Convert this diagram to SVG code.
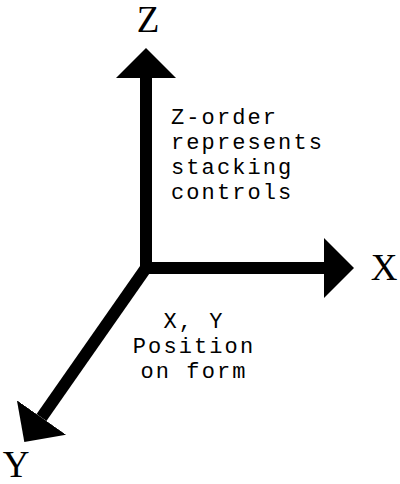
<svg xmlns="http://www.w3.org/2000/svg" width="400" height="484" viewBox="0 0 400 484">
<style>
.axis{stroke:#000;stroke-width:12;fill:none;marker-end:url(#head)}
.lbl{font-family:"Liberation Mono","Courier New",monospace;fill:#000}
.big{font-family:"Liberation Serif","Times New Roman",serif;font-size:37px;text-anchor:middle}
.note{font-size:22px;letter-spacing:2.1px}
.mid{text-anchor:middle}
</style>
<defs>
<marker id="head" markerUnits="userSpaceOnUse" markerWidth="30" markerHeight="60" viewBox="0 0 30 60" refX="0" refY="30" orient="auto">
<path d="M0,0 L30,30 L0,60 Z" fill="#000"/>
</marker>
</defs>
<rect width="400" height="484" fill="#fff"/>
<g id="connectors">
<line class="axis" x1="146" y1="274" x2="146" y2="78"/>
<line class="axis" x1="140" y1="268" x2="324" y2="268"/>
<line class="axis" x1="146" y1="268" x2="41.5" y2="417.5"/>
</g>
<g id="label-z"><text class="lbl big" x="148" y="32">Z</text></g>
<g id="label-x"><text class="lbl big" x="384" y="280">X</text></g>
<g id="label-y"><text class="lbl big" x="16" y="477">Y</text></g>
<g id="note-z">
<text class="lbl note" x="171" y="124">Z-order</text>
<text class="lbl note" x="171" y="149">represents</text>
<text class="lbl note" x="171" y="174">stacking</text>
<text class="lbl note" x="171" y="199">controls</text>
</g>
<g id="note-xy">
<text class="lbl note mid" x="194" y="328">X, Y</text>
<text class="lbl note mid" x="194" y="353">Position</text>
<text class="lbl note mid" x="194" y="378">on form</text>
</g>
</svg>
